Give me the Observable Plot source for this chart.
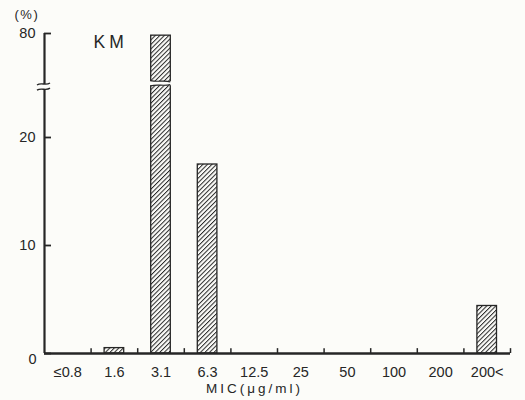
<!DOCTYPE html>
<html><head><meta charset="utf-8">
<script src="https://cdn.jsdelivr.net/npm/d3@7"></script>
<script src="https://cdn.jsdelivr.net/npm/@observablehq/plot@0.6"></script>
<style>
html,body{margin:0;padding:0;background:#fcfcf9;}
#chart svg{display:block;}
</style></head><body><div id="chart"></div>
<script>
// ---- data ----
const categories = ["≤0.8","1.6","3.1","6.3","12.5","25","50","100","200","200<"];
const percents   = [0, 0.5, 79.8, 17.5, 0, 0, 0, 0, 0, 4.4];
const yTickValues = [0, 10, 20, 80];
const yTickLabels = ["0", "10", "20", "80"];
const drugLabel = "KM";
const unitLabel = "(%)";
const xTitle = "MIC(μg/ml)";
const yBreak = [24.5, 75.5];   // axis is broken between these two values

// ---- build ----
const rows = categories.map((cat, i) => ({cat, i, pct: percents[i]}));
const barRows = rows.filter(d => d.pct > 0);
const ticks = yTickValues.map((v, i) => ({v, label: yTickLabels[i]}));

const font = "'Liberation Sans','Arimo',sans-serif";
const ink = "#262626";
const bg = "#fcfcf9";
const W = 525, H = 400, mL = 44, mR = 15, mT = 33, mB = 47;
const y0 = H - mB;
const pxPerUnit = 10.8;
const yRange = [y0, y0 - yBreak[0] * pxPerUnit, mT + (80 - yBreak[1]) * pxPerUnit, mT];
const inset = 13.5;

const plot = Plot.plot({
  width: W, height: H,
  marginLeft: mL, marginRight: mR, marginTop: mT, marginBottom: mB,
  style: {background: bg, fontFamily: font, color: ink, overflow: "visible"},
  x: {type: "linear", domain: [0, categories.length], range: [mL, W - mR], axis: null},
  y: {type: "linear", domain: [0, yBreak[0], yBreak[1], 80], range: yRange, axis: null},
  marks: [
    Plot.rect(barRows, {x1: d => d.i, x2: d => d.i + 1, y1: 0, y2: "pct",
      insetLeft: inset, insetRight: inset, fill: "url(#hatch)", stroke: ink, strokeWidth: 1.3}),
    // axes
    Plot.ruleX([0], {y1: 0, y2: 80, stroke: ink, strokeWidth: 2.2}),
    Plot.ruleY([0], {x1: 0, x2: categories.length, stroke: ink, strokeWidth: 2.4}),
    Plot.ruleY(ticks, {y: "v", x1: 0, x2: 0.15, stroke: ink, strokeWidth: 1.8}),
    Plot.ruleX(d3.range(1, categories.length + 1), {x: d => d, y1: 0, y2: 0.45, stroke: ink, strokeWidth: 1.5}),
    // labels
    Plot.text(ticks.filter(d => d.v !== 0), {x: 0, y: "v", text: "label", dx: -9, textAnchor: "end", fontSize: 14.5}),
    Plot.text(ticks.filter(d => d.v === 0), {x: 0, y: "v", text: "label", dx: -8, dy: 6, textAnchor: "end", fontSize: 14.5}),
    Plot.text(rows, {x: d => d.i + 0.5, y: 0, text: "cat", dy: 19, fontSize: 14.5}),
    Plot.text([xTitle], {frameAnchor: "bottom", dx: -23, dy: 39, fontSize: 13.5}),
    Plot.text([drugLabel], {frameAnchor: "top-left", dx: 49, dy: 2, textAnchor: "start", lineAnchor: "top", fontSize: 17.5}),
    Plot.text([unitLabel], {frameAnchor: "top-left", dx: -30, dy: -24, textAnchor: "start", lineAnchor: "top", fontSize: 13})
  ]
});

const svg = d3.select(plot);
// letter spacing as in the reference
svg.selectAll("text").filter(function() { return this.textContent === xTitle; }).attr("letter-spacing", "3px");
svg.selectAll("text").filter(function() { return this.textContent === drugLabel; }).attr("letter-spacing", "4px");
svg.selectAll("text").filter(function() { return this.textContent === unitLabel; }).attr("letter-spacing", "1.5px");

const defs = svg.insert("defs", ":first-child");
const pat = defs.append("pattern").attr("id", "hatch").attr("patternUnits", "userSpaceOnUse")
  .attr("width", 3.2).attr("height", 3.2).attr("patternTransform", "rotate(45)");
pat.append("rect").attr("width", 3.2).attr("height", 3.2).attr("fill", bg);
pat.append("line").attr("x1", 0.5).attr("y1", 0).attr("x2", 0.5).attr("y2", 3.2).attr("stroke", ink).attr("stroke-width", 1);

// ---- break symbols, positioned from the scales ----
const ys = plot.scale("y"), xs = plot.scale("x");
const yLow = ys.apply(yBreak[0]), yHigh = ys.apply(yBreak[1]);
const g = svg.append("g");
const wave = (x1, x2, y, a) => {
  const w = x2 - x1;
  return `M${x1},${y + a} C${x1 + w / 3},${y - 2 * a} ${x1 + 2 * w / 3},${y + 2 * a} ${x2},${y - a}`;
};
// axis break
const ax = xs.apply(0);
const a1 = yHigh + 2.4, a2 = yLow + 0.8;
g.append("rect").attr("x", ax - 3).attr("y", a1).attr("width", 6).attr("height", a2 - a1).attr("fill", bg);
g.append("path").attr("d", wave(ax - 7, ax + 6, a1, 1)).attr("fill", "none").attr("stroke", ink).attr("stroke-width", 1.4);
g.append("path").attr("d", wave(ax - 7, ax + 6, a2, 1)).attr("fill", "none").attr("stroke", ink).attr("stroke-width", 1.4);
// bar break (bars crossing the break)
barRows.filter(d => d.pct > yBreak[1]).forEach(d => {
  const bx1 = xs.apply(d.i) + inset, bx2 = xs.apply(d.i + 1) - inset;
  const b1 = yHigh - 0.4, b2 = yLow - 3.2;
  g.append("rect").attr("x", bx1 - 2).attr("y", b1).attr("width", bx2 - bx1 + 4).attr("height", b2 - b1).attr("fill", bg);
  g.append("path").attr("d", wave(bx1, bx2, b1, -0.6)).attr("fill", "none").attr("stroke", ink).attr("stroke-width", 1.2);
  g.append("path").attr("d", wave(bx1, bx2, b2, 0.6)).attr("fill", "none").attr("stroke", ink).attr("stroke-width", 1.2);
});

document.getElementById("chart").appendChild(plot);
</script>
</body></html>
